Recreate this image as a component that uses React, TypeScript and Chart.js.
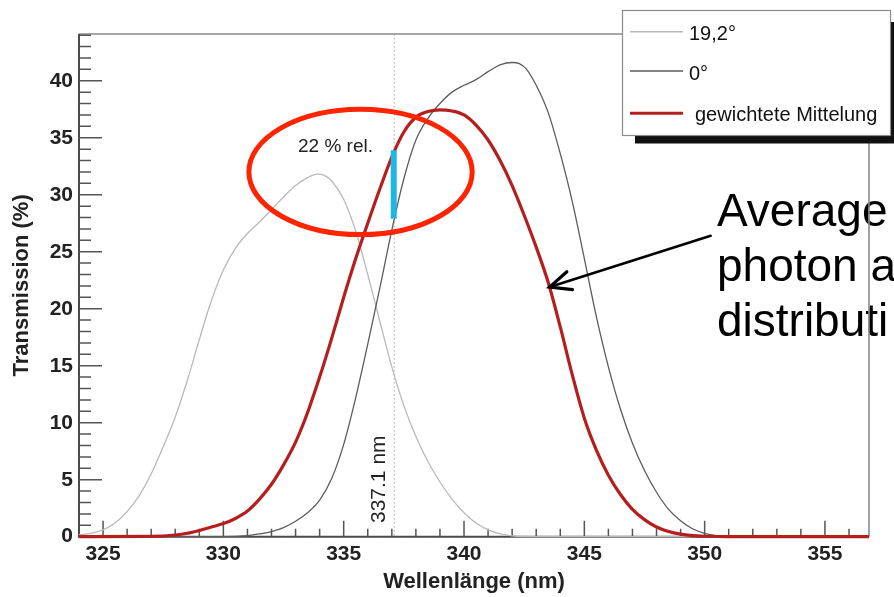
import { useEffect, useRef } from 'react';
import { Chart, registerables } from 'chart.js';

Chart.register(...registerables);

const FONT = '"Liberation Sans", Arial, Helvetica, sans-serif';

// ---- data ----
const lightX = [324.0, 324.5, 325.0, 325.5, 326.0, 326.5, 327.0, 327.5, 328.0, 328.5, 329.0, 329.5, 330.0, 330.5, 331.0, 331.5, 332.0, 332.5, 333.0, 333.5, 333.9, 334.2, 334.5, 335.0, 335.5, 336.0, 336.5, 337.0, 337.5, 338.0, 338.5, 339.0, 339.5, 340.0, 340.5, 341.0, 341.5, 342.0, 343.0, 356.83];
const lightY = [0.15, 0.3, 0.6, 1.2, 2.2, 3.6, 5.5, 7.9, 10.5, 13.7, 17.3, 20.7, 23.4, 25.3, 26.6, 27.6, 28.7, 29.8, 30.8, 31.5, 31.8, 31.7, 31.2, 29.6, 26.8, 23.0, 18.9, 14.9, 11.5, 8.8, 6.6, 4.8, 3.3, 2.1, 1.2, 0.6, 0.25, 0.08, 0, 0];

const darkX = [324.0, 330.0, 331.0, 331.5, 332.0, 332.5, 333.0, 333.5, 334.0, 334.5, 335.0, 335.5, 336.0, 336.5, 337.0, 337.5, 338.0, 338.5, 339.0, 339.5, 340.0, 340.5, 341.0, 341.5, 342.0, 342.3, 342.6, 343.0, 343.5, 344.0, 344.5, 345.0, 345.5, 346.0, 346.5, 347.0, 347.5, 348.0, 348.5, 349.0, 349.5, 350.0, 350.5, 351.0, 352.0, 356.83];
const darkY = [0, 0, 0.1, 0.25, 0.45, 0.8, 1.35, 2.1, 3.2, 5.1, 8.1, 12.2, 16.9, 21.8, 26.9, 31.4, 34.8, 36.7, 38.0, 39.0, 39.6, 40.1, 40.8, 41.4, 41.6, 41.5, 41.0, 39.6, 37.2, 33.6, 29.4, 24.4, 19.3, 14.9, 11.2, 8.2, 5.8, 3.9, 2.4, 1.4, 0.7, 0.3, 0.1, 0.02, 0, 0];

const avgX = [324.0, 327.0, 328.0, 328.5, 329.0, 329.5, 330.0, 330.5, 331.0, 331.5, 332.0, 332.5, 333.0, 333.5, 334.0, 334.5, 335.0, 335.5, 336.0, 336.5, 337.0, 337.5, 338.0, 338.5, 339.0, 339.5, 340.0, 340.5, 341.0, 341.5, 342.0, 342.5, 343.0, 343.5, 344.0, 344.5, 345.0, 345.5, 346.0, 346.5, 347.0, 347.5, 348.0, 348.5, 349.0, 349.5, 350.0, 351.0, 356.83];
const avgY = [0, 0.03, 0.15, 0.3, 0.55, 0.85, 1.15, 1.6, 2.25, 3.3, 4.6, 6.3, 8.3, 10.9, 14.0, 17.4, 21.0, 24.4, 27.5, 30.5, 33.3, 35.5, 36.8, 37.3, 37.45, 37.35, 37.0, 36.1, 34.8, 33.0, 30.8, 28.2, 25.4, 22.3, 18.4, 14.2, 10.4, 7.6, 5.4, 3.7, 2.4, 1.5, 0.85, 0.45, 0.22, 0.1, 0.04, 0, 0];

const xTicks = [325, 330, 335, 340, 345, 350, 355];
const yTicks = [0, 5, 10, 15, 20, 25, 30, 35, 40];
const seriesLabels = ['19,2°', '0°', 'gewichtete Mittelung'];
const noteLines = ['Average', 'photon a', 'distributi'];
const markerWavelength = 337.1;
const relTop = 33.9;
const relBottom = 27.9;

const X_MIN = 324;
const X_MAX = 356.83;
const Y_MAX = 44.1;

const COL_LIGHT = '#b9b9b9';
const COL_DARK = '#5c5c5c';
const COL_RED = '#b41f1e';

const overlayPlugin = {
  id: 'overlay',
  beforeDatasetsDraw(chart: any) {
    const { ctx, chartArea: a, scales } = chart;
    const xs = scales.x;
    const ys = scales.y;
    ctx.save();
    // big slide note
    ctx.fillStyle = '#000';
    ctx.font = `46px ${FONT}`;
    ctx.textAlign = 'left';
    ctx.textBaseline = 'alphabetic';
    noteLines.forEach((t, i) => ctx.fillText(t, 717, 226 + i * 55));

    // dotted marker line
    const mx = xs.getPixelForValue(markerWavelength);
    ctx.strokeStyle = '#a8a8a8';
    ctx.lineWidth = 1;
    ctx.setLineDash([1.5, 2.5]);
    ctx.beginPath();
    ctx.moveTo(mx, a.top);
    ctx.lineTo(mx, a.bottom);
    ctx.stroke();
    ctx.setLineDash([]);

    // frame
    ctx.strokeStyle = '#8a8a8a';
    ctx.lineWidth = 1.6;
    ctx.beginPath();
    ctx.moveTo(a.left, a.top);
    ctx.lineTo(a.right, a.top);
    ctx.lineTo(a.right, a.bottom);
    ctx.stroke();
    ctx.strokeStyle = '#4a4a4a';
    ctx.lineWidth = 2;
    ctx.beginPath();
    ctx.moveTo(a.left, a.top);
    ctx.lineTo(a.left, a.bottom);
    ctx.lineTo(a.right, a.bottom);
    ctx.stroke();

    // ticks (inward)
    ctx.strokeStyle = '#555';
    ctx.lineWidth = 1.5;
    ctx.beginPath();
    for (let v = 1; v <= Math.floor(Y_MAX); v++) {
      const py = ys.getPixelForValue(v);
      const len = v % 5 === 0 ? 23 : 12;
      ctx.moveTo(a.left, py);
      ctx.lineTo(a.left + len, py);
    }
    for (let v = Math.ceil(X_MIN) + 1; v <= Math.floor(X_MAX); v++) {
      const px = xs.getPixelForValue(v);
      const len = v % 5 === 0 ? 16 : 8;
      ctx.moveTo(px, a.bottom);
      ctx.lineTo(px, a.bottom - len);
    }
    ctx.stroke();
    ctx.restore();
  },
  afterDatasetsDraw(chart: any) {
    const { ctx, scales } = chart;
    const xs = scales.x;
    const ys = scales.y;
    ctx.save();
    const mx = xs.getPixelForValue(markerWavelength);

    // cyan relative-difference bar
    ctx.strokeStyle = '#1db6e6';
    ctx.lineWidth = 6;
    ctx.beginPath();
    ctx.moveTo(mx - 0.5, ys.getPixelForValue(relTop));
    ctx.lineTo(mx - 0.5, ys.getPixelForValue(relBottom));
    ctx.stroke();

    // "22 % rel."
    ctx.fillStyle = '#222';
    ctx.font = `19px ${FONT}`;
    ctx.textAlign = 'left';
    ctx.textBaseline = 'alphabetic';
    ctx.fillText('22 % rel.', 298, 151.5);

    // "337.1 nm" rotated
    ctx.save();
    ctx.translate(mx - 9, 523);
    ctx.rotate(-Math.PI / 2);
    ctx.font = `21px ${FONT}`;
    ctx.fillStyle = '#222';
    ctx.textAlign = 'left';
    ctx.textBaseline = 'alphabetic';
    ctx.fillText('337.1 nm', 0, 0);
    ctx.restore();

    // red ellipse
    const cx = xs.getPixelForValue(335.7);
    const cy = ys.getPixelForValue(32.0);
    const rx = xs.getPixelForValue(335.7 + 4.64) - cx;
    const ry = cy - ys.getPixelForValue(32.0 + 5.5);
    ctx.strokeStyle = '#ff2400';
    ctx.lineWidth = 5;
    ctx.beginPath();
    ctx.ellipse(cx, cy, rx, ry, 0, 0, Math.PI * 2);
    ctx.stroke();

    // arrow
    const tipX = xs.getPixelForValue(343.56);
    const tipY = ys.getPixelForValue(21.9);
    const tailX = xs.getPixelForValue(350.25);
    const tailY = ys.getPixelForValue(26.4);
    ctx.strokeStyle = '#000';
    ctx.lineWidth = 2.5;
    ctx.lineCap = 'round';
    ctx.beginPath();
    ctx.moveTo(tailX, tailY);
    ctx.lineTo(tipX, tipY);
    ctx.stroke();
    const ang = Math.atan2(tailY - tipY, tailX - tipX);
    ctx.lineWidth = 3.2;
    ctx.beginPath();
    ctx.moveTo(tipX + 23 * Math.cos(ang - 0.42), tipY + 23 * Math.sin(ang - 0.42));
    ctx.lineTo(tipX, tipY);
    ctx.lineTo(tipX + 23 * Math.cos(ang + 0.42), tipY + 23 * Math.sin(ang + 0.42));
    ctx.stroke();
    ctx.lineCap = 'butt';

    // legend box with shadow
    ctx.fillStyle = '#111';
    ctx.fillRect(635, 135.5, 270, 8);
    ctx.fillRect(890.5, 22, 10, 121);
    ctx.fillStyle = '#fff';
    ctx.fillRect(622.5, 10.5, 268, 125);
    ctx.strokeStyle = '#8c8c8c';
    ctx.lineWidth = 1.2;
    ctx.strokeRect(622.5, 10.5, 268, 125);

    const entries = [
      { color: COL_LIGHT, w: 1.5, y: 31.7, ty: 39.5, tx: 689 },
      { color: COL_DARK, w: 1.5, y: 71, ty: 80, tx: 689 },
      { color: COL_RED, w: 3, y: 113.3, ty: 120.7, tx: 695 },
    ];
    entries.forEach((e, i) => {
      ctx.strokeStyle = e.color;
      ctx.lineWidth = e.w;
      ctx.beginPath();
      ctx.moveTo(630, e.y);
      ctx.lineTo(683, e.y);
      ctx.stroke();
      ctx.fillStyle = '#111';
      ctx.font = `20px ${FONT}`;
      ctx.fillText(seriesLabels[i], e.tx, e.ty);
    });
    ctx.restore();
  },
};

export default function App() {
  const canvasRef = useRef<HTMLCanvasElement | null>(null);

  useEffect(() => {
    const canvas = canvasRef.current;
    if (!canvas) return;
    const toPts = (xs: number[], ys: number[]) => xs.map((x, i) => ({ x, y: ys[i] }));
    const chart = new Chart(canvas, {
      type: 'line',
      data: {
        datasets: [
          {
            label: seriesLabels[2],
            data: toPts(avgX, avgY),
            borderColor: COL_RED,
            borderWidth: 3.2,
            pointRadius: 0,
            cubicInterpolationMode: 'monotone',
            clip: false,
            fill: false,
          },
          {
            label: seriesLabels[1],
            data: toPts(darkX, darkY),
            borderColor: COL_DARK,
            borderWidth: 1.3,
            pointRadius: 0,
            cubicInterpolationMode: 'monotone',
            clip: false,
            fill: false,
          },
          {
            label: seriesLabels[0],
            data: toPts(lightX, lightY),
            borderColor: COL_LIGHT,
            borderWidth: 1.3,
            pointRadius: 0,
            cubicInterpolationMode: 'monotone',
            clip: false,
            fill: false,
          },
        ],
      },
      options: {
        responsive: false,
        animation: false,
        layout: { padding: { left: 0, top: 34, right: 25, bottom: 0 } },
        plugins: { legend: { display: false }, tooltip: { enabled: false } },
        scales: {
          x: {
            type: 'linear',
            min: X_MIN,
            max: X_MAX,
            afterBuildTicks: (s: any) => {
              s.ticks = xTicks.map((v) => ({ value: v }));
            },
            afterFit: (s: any) => {
              s.height = 60.3;
            },
            grid: { display: false, drawTicks: false },
            border: { display: false },
            ticks: {
              font: { family: FONT, size: 21, weight: 'bold' },
              color: '#222',
              padding: 5,
              maxRotation: 0,
              autoSkip: false,
              callback: (v: any) => String(v),
            },
            title: {
              display: true,
              text: 'Wellenlänge (nm)',
              font: { family: FONT, size: 22, weight: 'bold' },
              color: '#222',
              padding: { top: 0, bottom: 2 },
            },
          },
          y: {
            type: 'linear',
            min: 0,
            max: Y_MAX,
            afterBuildTicks: (s: any) => {
              s.ticks = yTicks.map((v) => ({ value: v }));
            },
            afterFit: (s: any) => {
              s.width = 79;
            },
            grid: { display: false, drawTicks: false },
            border: { display: false },
            ticks: {
              font: { family: FONT, size: 21, weight: 'bold' },
              color: '#222',
              padding: 6,
              autoSkip: false,
              callback: (v: any) => String(v),
            },
            title: {
              display: true,
              text: 'Transmission (%)',
              font: { family: FONT, size: 22, weight: 'bold' },
              color: '#222',
              padding: { top: 9, bottom: 0 },
            },
          },
        },
      },
      plugins: [overlayPlugin],
    } as any);
    return () => chart.destroy();
  }, []);

  return (
    <div style={{ position: 'absolute', left: 0, top: 0, width: 894, height: 597, background: '#fff', overflow: 'hidden' }}>
      <canvas ref={canvasRef} width={894} height={597} style={{ display: 'block' }} />
    </div>
  );
}
